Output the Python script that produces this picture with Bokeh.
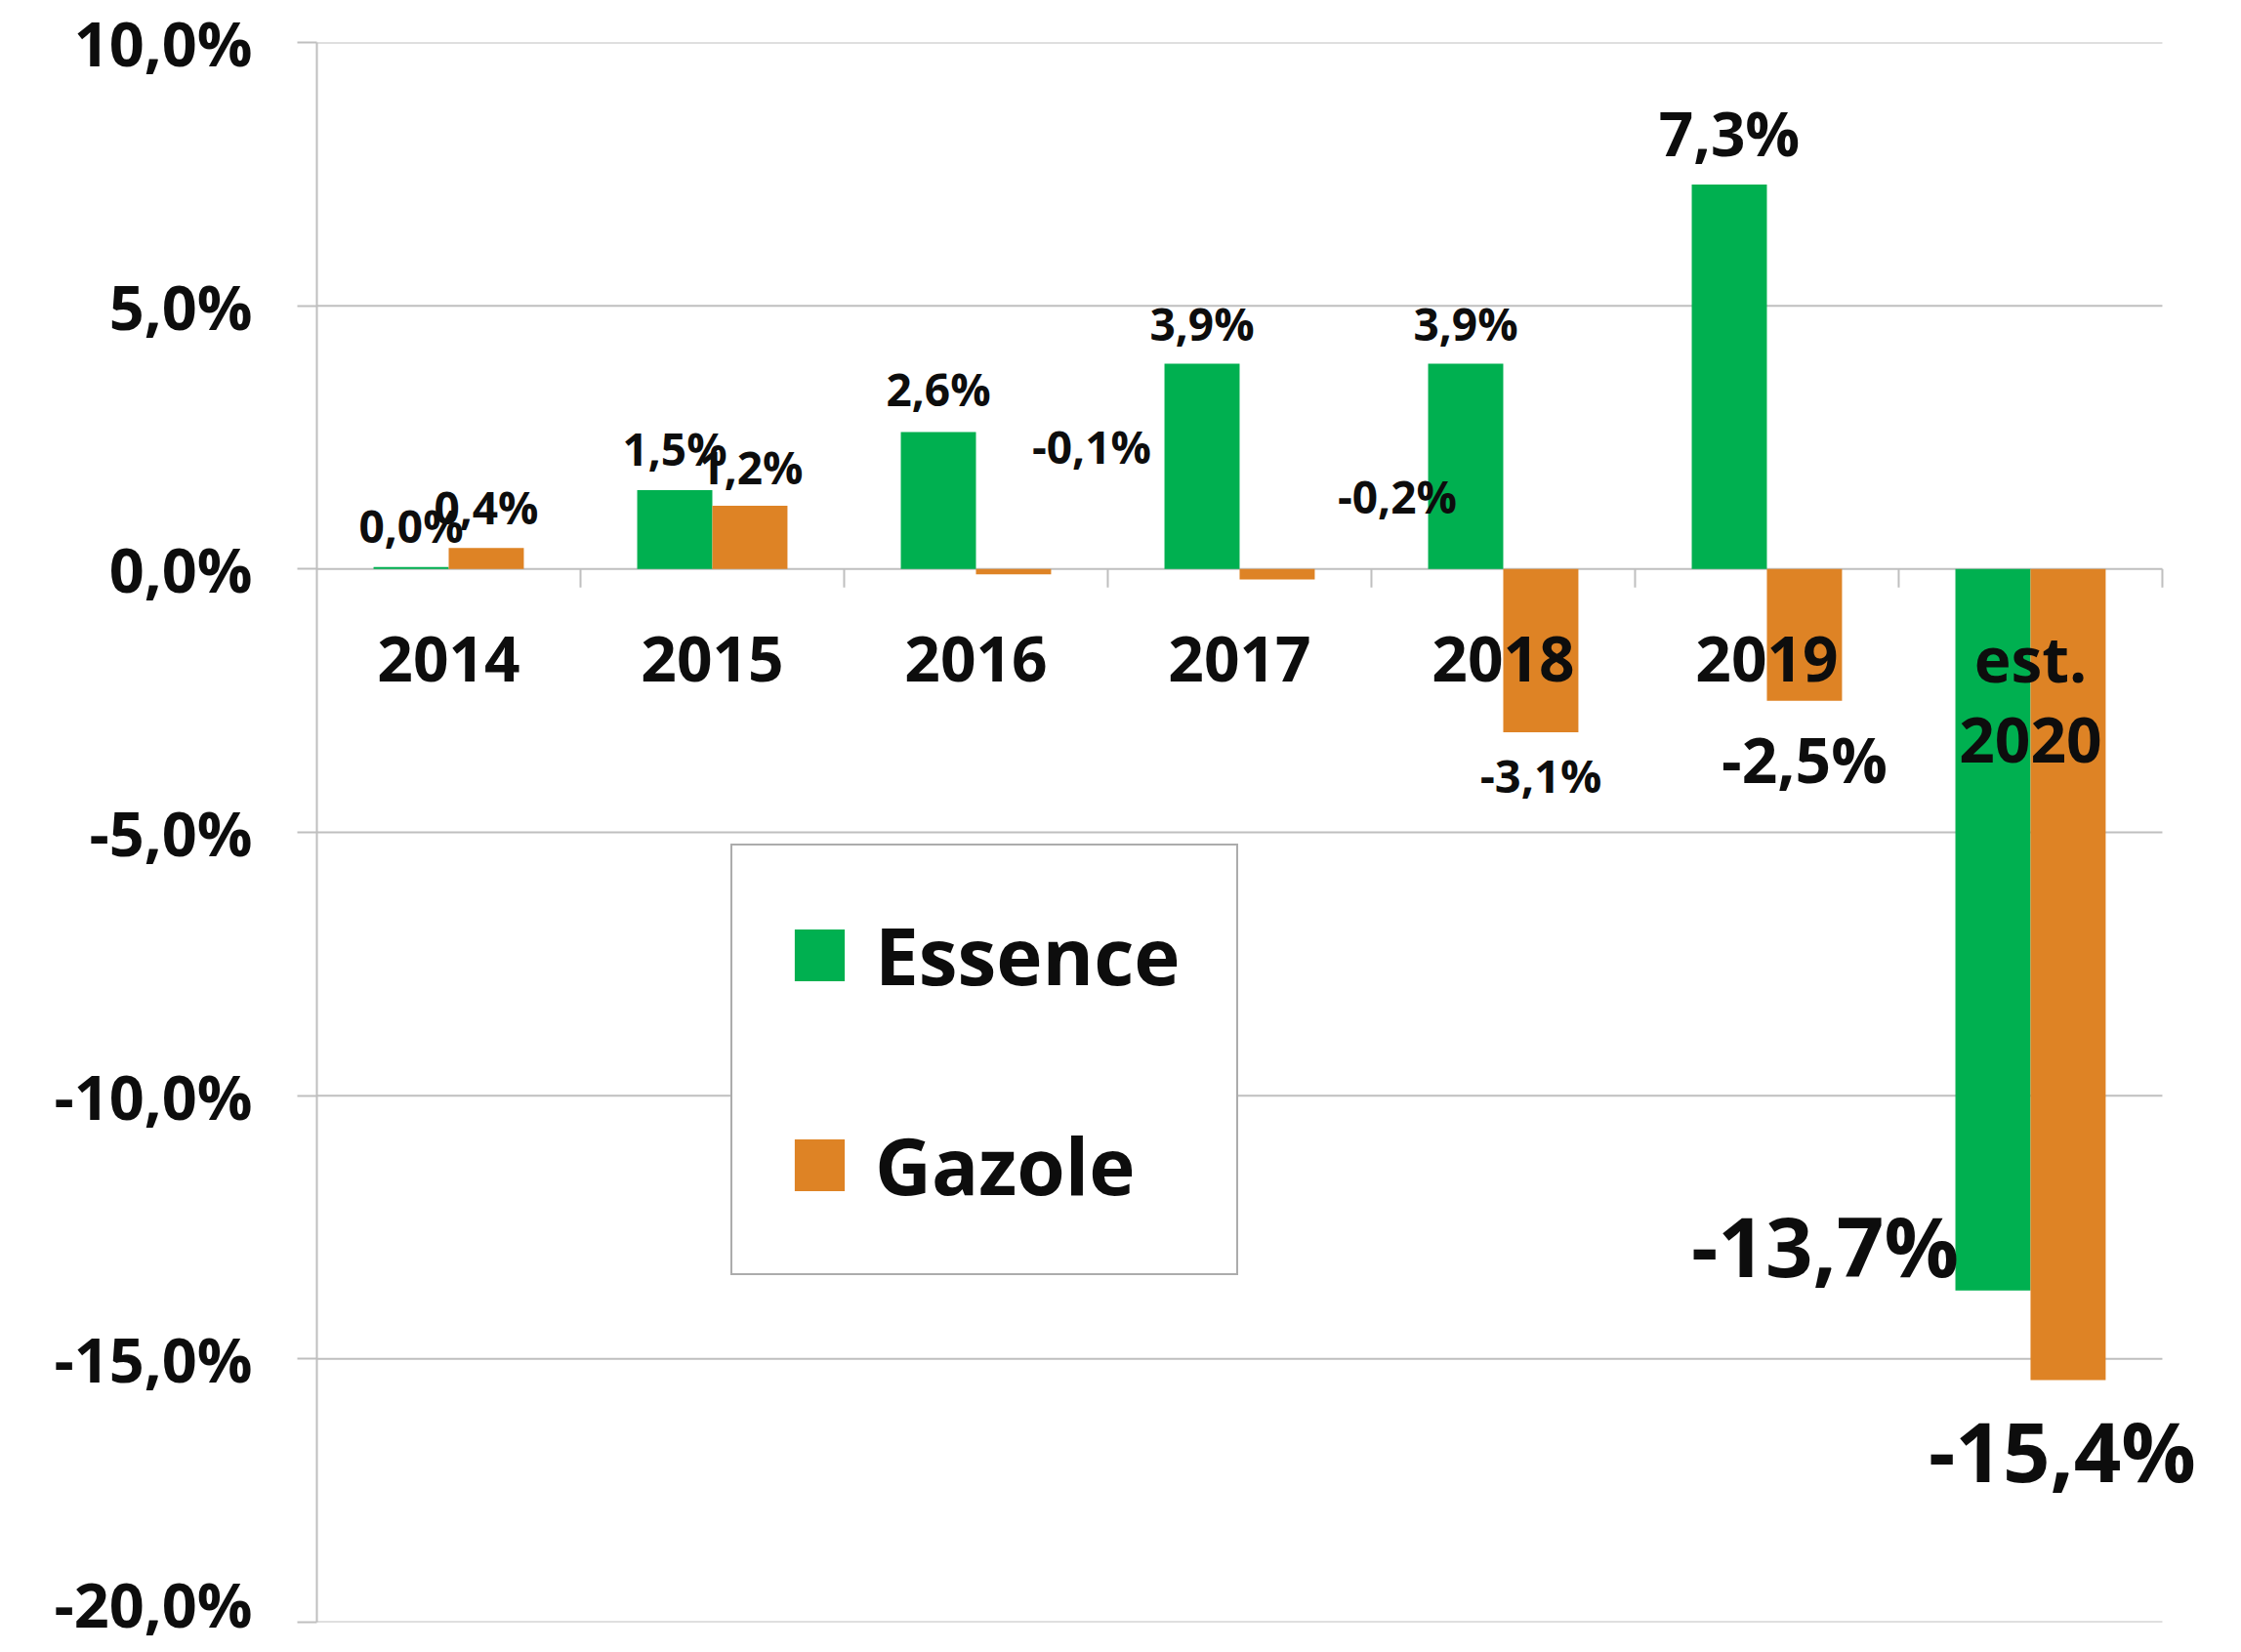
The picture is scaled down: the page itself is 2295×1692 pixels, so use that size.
from bokeh.plotting import figure
from bokeh.models import FixedTicker, Legend, LegendItem
from bokeh.core.properties import value
from bokeh.embed import file_html
from bokeh.resources import INLINE

# ---- data ----
categories = ["2014", "2015", "2016", "2017", "2018", "2019", "est.\n2020"]
essence = [0.04, 1.5, 2.6, 3.9, 3.9, 7.3, -13.7]
gazole = [0.4, 1.2, -0.1, -0.2, -3.1, -2.5, -15.4]
essence_labels = ["0,0%", "1,5%", "2,6%", "3,9%", "3,9%", "7,3%", "-13,7%"]
gazole_labels = ["0,4%", "1,2%", "-0,1%", "-0,2%", "-3,1%", "-2,5%", "-15,4%"]
ytick_values = [-20, -15, -10, -5, 0, 5, 10]
ytick_labels = ["-20,0%", "-15,0%", "-10,0%", "-5,0%", "0,0%", "5,0%", "10,0%"]

# ---- styles ----
GREEN = "#00B050"
ORANGE = "#DE8325"
GRID = "#BFBFBF"
TXT = "#0D0D0D"
FONT = "Open Sans"
BAR_W = 0.285

# label pixel offsets from the bar end (screen: +x right, +y down), and font sizes
essence_dx = [0, 0, 0, 0, 0, 0, -172]
essence_dy = [-43, -43, -45, -41, -41, -53, -47]
essence_fs = ["46px", "46px", "46px", "46px", "46px", "62px", "85px"]
gazole_dx = [0, 1, 80, 123, 0, 0, -6]
gazole_dy = [-42, -40, -131, -86, 44, 60, 72]
gazole_fs = ["46px", "46px", "46px", "46px", "47px", "64px", "85px"]

n = len(categories)
centers = [i + 0.5 for i in range(n)]
x_ess = [c - BAR_W / 2 for c in centers]
x_gaz = [c + BAR_W / 2 for c in centers]

# the frame reaches a little past the last category so the last label is not cut
p = figure(width=2287, height=1684, x_range=(0, n + 0.252), y_range=(-20, 10),
           output_backend="svg", toolbar_location=None, x_axis_location=None,
           min_border_left=324, min_border_right=5, min_border_top=43,
           min_border_bottom=23)
p.outline_line_color = None
p.background_fill_color = "white"

# y axis
yax = p.yaxis[0]
yax.ticker = FixedTicker(ticks=ytick_values)
yax.major_label_overrides = {v: l for v, l in zip(ytick_values, ytick_labels)}
yax.major_label_text_font = FONT
yax.major_label_text_font_style = "bold"
yax.major_label_text_font_size = "63px"
yax.major_label_text_color = TXT
yax.axis_line_color = GRID
yax.axis_line_width = 2
yax.major_tick_line_color = GRID
yax.major_tick_line_width = 2
yax.major_tick_out = 20
yax.major_tick_in = 0
yax.minor_tick_out = 0
yax.minor_tick_in = 0
yax.major_label_standoff = 46

p.ygrid.visible = False
p.xgrid.visible = False

# horizontal gridlines, only across the categories
p.segment(x0=[0] * len(ytick_values), x1=[n] * len(ytick_values),
          y0=ytick_values, y1=ytick_values, line_color=GRID, line_width=2)

# category tick marks below zero line
bounds = [float(i) for i in range(1, n + 1)]
p.segment(x0=bounds, x1=bounds, y0=[0] * len(bounds), y1=[-0.35] * len(bounds),
          line_color=GRID, line_width=2)

# bars
r_e = p.vbar(x=x_ess, top=essence, bottom=0, width=BAR_W, fill_color=GREEN, line_color=None)
r_g = p.vbar(x=x_gaz, top=gazole, bottom=0, width=BAR_W, fill_color=ORANGE, line_color=None)

# category labels (one text per line)
cx, cy, ct, coff = [], [], [], []
for c, lab in zip(centers, categories):
    for j, line in enumerate(lab.split("\n")):
        cx.append(c)
        cy.append(0)
        ct.append(line)
        coff.append(92 + 83 * j)
p.text(x=cx, y=cy, text=ct, y_offset=coff, text_align="center", text_baseline="middle",
       text_font=value(FONT), text_font_style="bold", text_font_size="64px", text_color=TXT)

# data labels
for xs, vals, labs, dxs, dys, fss in [
    (x_ess, essence, essence_labels, essence_dx, essence_dy, essence_fs),
    (x_gaz, gazole, gazole_labels, gazole_dx, gazole_dy, gazole_fs),
]:
    for x, v, t, dx, dy, fs in zip(xs, vals, labs, dxs, dys, fss):
        p.text(x=[x], y=[v], text=[t], x_offset=dx, y_offset=dy,
               text_align="center", text_baseline="middle",
               text_font=value(FONT), text_font_style="bold",
               text_font_size=fs, text_color=TXT)

legend = Legend(items=[LegendItem(label="Essence", renderers=[r_e]),
                       LegendItem(label="Gazole", renderers=[r_g])],
                location=(424, 355), orientation="vertical",
                glyph_width=64, glyph_height=66, label_standoff=25,
                label_text_font=FONT, label_text_font_style="bold",
                label_text_font_size="80px", label_text_color=TXT,
                padding=57, spacing=106, margin=0,
                border_line_color="#595959", border_line_width=2,
                background_fill_color="white", background_fill_alpha=1.0)
p.add_layout(legend)

open("out.html", "w").write(file_html(p, INLINE))
